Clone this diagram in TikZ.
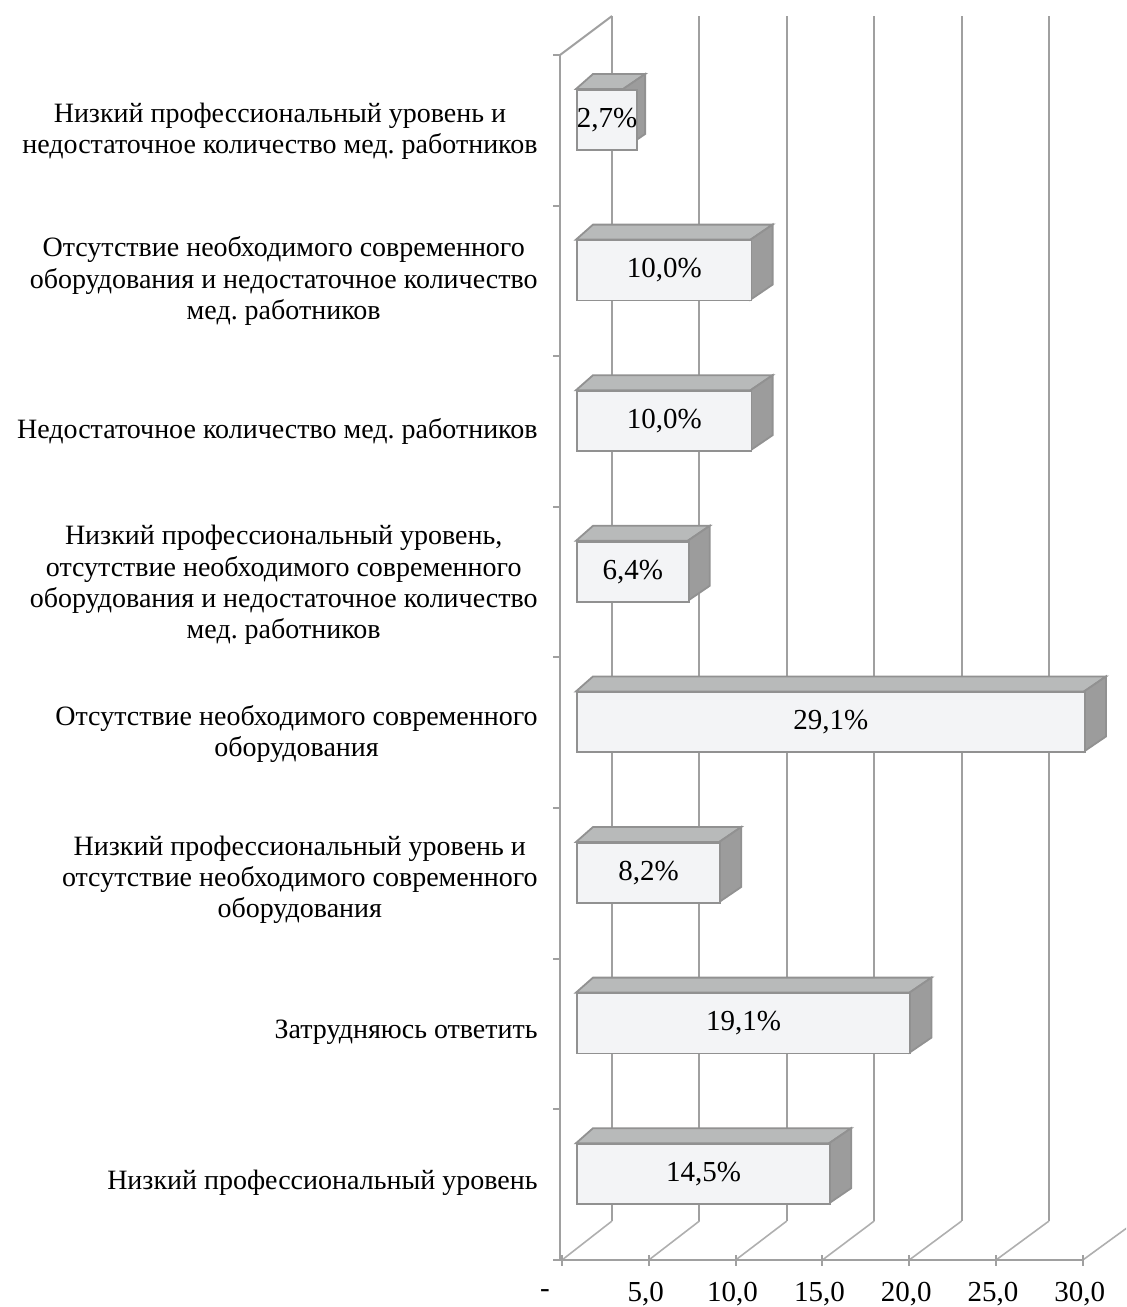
\documentclass[tikz,border=0pt]{standalone}
\usepackage{fontspec}
\setmainfont{Liberation Serif}
\frenchspacing
\definecolor{gridgray}{RGB}{160,160,160}
\definecolor{floorgray}{RGB}{175,175,175}
\definecolor{barfront}{RGB}{243,244,246}
\definecolor{bartop}{RGB}{184,186,186}
\definecolor{barside}{RGB}{156,156,156}
\definecolor{baredge}{RGB}{145,145,145}
\tikzset{
  gridline/.style={draw=gridgray, line width=1pt},
  floorline/.style={draw=floorgray, line width=0.8pt},
  barface/.style={draw=baredge, fill=barfront, line width=0.9pt, inner sep=0pt,
    font=\fontsize{14.5}{16}\selectfont},
  cat/.style={anchor=east, align=center, inner sep=0pt,
    font=\fontsize{14}{15.6}\selectfont},
  tick/.style={inner sep=0pt, font=\fontsize{14.5}{16}\selectfont}
}

\begin{document}
\begin{tikzpicture}[x=0.5pt,y=-0.5pt]
        \clip (0,0) rectangle (1126,1307);
        % back wall and floor
        \foreach \k in {0,...,5}
          \draw[gridline] ({612+87.4*\k},16) -- ({612+87.4*\k},1221);
        \foreach \k in {0,...,6}
          \draw[floorline] ({562+86.8*\k},1260) -- ({612+87.4*\k},1221);
        % axes
        \draw[gridline] (560,55) -- (612,16);
        \draw[gridline] (560,55) -- (560,1260) -- (1083,1260);
        \foreach \k in {0,...,8}
          \draw[gridline] (553,{55+150.6*\k}) -- (560,{55+150.6*\k});
        \foreach \k in {0,...,6}
          \draw[gridline] ({562+86.8*\k},1255) -- ({562+86.8*\k},1266);
        % bars
        \foreach \v/\t [count=\i] in {2.7/{2,7\%},10.0/{10,0\%},10.0/{10,0\%},6.4/{6,4\%},
            29.1/{29,1\%},8.2/{8,2\%},19.1/{19,1\%},14.5/{14,5\%}} {
          \pgfmathsetmacro\bt{55+150.6*(\i-1)+34}
          \pgfmathsetmacro\xe{576+\v*17.46}
          \pgfmathsetmacro\bw{(\xe-576)/2}
          \filldraw[fill=bartop, draw=baredge, line width=0.9pt]
            (576,\bt) -- (593,\bt-15) -- (\xe+22,\bt-15) -- (\xe,\bt) -- cycle;
          \filldraw[fill=barside, draw=baredge, line width=0.9pt]
            (\xe,\bt) -- (\xe+22,\bt-15) -- (\xe+22,\bt+45) -- (\xe,\bt+60) -- cycle;
          \node[barface, anchor=north west, minimum width=\bw pt, minimum height=30pt]
            (bar\i) at (576,\bt) {\t};
        }
        % categories
        \node[cat] (c1) at (538,131) {Низкий профессиональный уровень и\\недостаточное количество мед. работников};
        \node[cat] (c2) at (538,281) {Отсутствие необходимого современного\\оборудования и недостаточное количество\\мед. работников};
        \node[cat] (c3) at (538,431) {Недостаточное количество мед. работников};
        \node[cat] (c4) at (538,585) {Низкий профессиональный уровень,\\отсутствие необходимого современного\\оборудования и недостаточное количество\\мед. работников};
        \node[cat] (c5) at (538,734) {Отсутствие необходимого современного\\оборудования};
        \node[cat] (c6) at (538,880) {Низкий профессиональный уровень и\\отсутствие необходимого современного\\оборудования};
        \node[cat] (c7) at (538,1032) {Затрудняюсь ответить};
        \node[cat] (c8) at (538,1183) {Низкий профессиональный уровень};
        % value axis
        \node[tick] (t0) at (545,1294) {-};
        \foreach \n [count=\k] in {{5,0},{10,0},{15,0},{20,0},{25,0},{30,0}}
          \node[tick] (t\k) at ({559+86.8*\k},1294) {\n};
      \end{tikzpicture}
\end{document}
